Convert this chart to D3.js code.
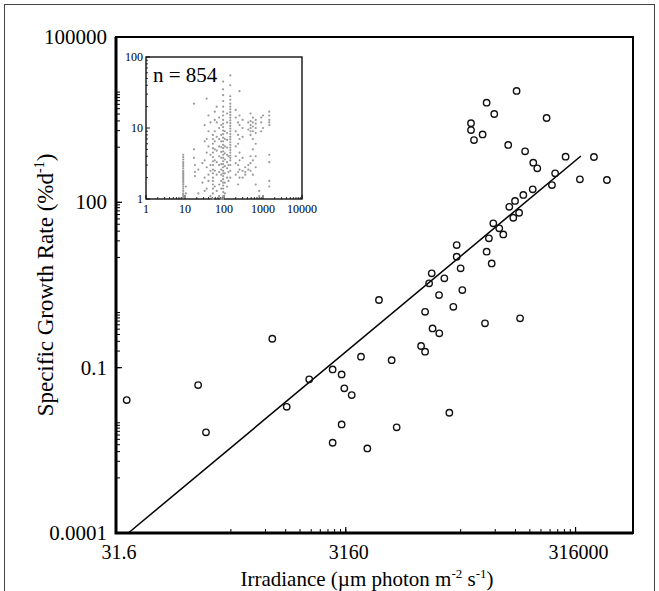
<!DOCTYPE html>
<html>
<head>
<meta charset="utf-8">
<script src="https://cdn.jsdelivr.net/npm/d3@7"></script>
<style>
  body { margin: 0; background: #fff; }
  svg { display: block; font-family: "Liberation Serif", "Times New Roman", serif; }
  text { fill: #000; }
</style>
</head>
<body>
<svg width="659" height="591"></svg>
<script>
// main scatter: irradiance vs specific growth rate
var irradiance = [97000, 53200, 62000, 38900, 38900, 49100, 41300, 177000, 82000, 115000,
    135500, 146800, 259000, 345000, 210000, 197000, 134000, 111000, 94000, 83800,
    102000, 90800, 60800, 68500, 74300, 55700, 29200, 29200, 53200, 58900,
    17700, 16800, 22800, 31600, 20500, 32700, 6150, 27300, 15500, 18000,
    20600, 51500, 104000, 14300, 15500, 4290, 7930, 3560, 25200, 8770,
    4870, 725, 39.2, 164, 192, 968, 1520, 2430, 2910, 3070,
    2910, 2430, 457000, 593000];
var growthRate = [10500, 6430, 4010, 2720, 2050, 1710, 1350, 3390, 1100, 843,
    524, 414, 673, 261, 336, 206, 172, 136, 106, 83,
    64.7, 52.5, 41.6, 33.7, 26.2, 22.2, 16.8, 10.3, 12.7, 7.8,
    5.14, 3.39, 4.18, 6.34, 2.08, 2.56, 1.69, 1.27, 1.03, 0.516,
    0.42, 0.637, 0.785, 0.247, 0.195, 0.158, 0.137, 0.0318, 0.0152, 0.00826,
    0.00343, 0.335, 0.0258, 0.0483, 0.0067, 0.0195, 0.0614, 0.0931, 0.0755, 0.0421,
    0.00935, 0.00434, 664, 254];

// regression line end points
var fitX = [40.5, 352000];
var fitY = [0.0001, 692];

// axis ticks
var xTicks = [31.62, 3162, 316228];
var xTickLabels = ["31.6", "3160", "316000"];
var yTicks = [0.0001, 0.1, 100, 100000];
var yTickLabels = ["0.0001", "0.1", "100", "100000"];
var xMinorDecades = [316.2, 31623];
var yMinorDecades = [0.001, 0.1, 10, 1000];

// inset (n = 854): columns of irradiance with the rates seen in each
var insetX = [9, 10.5, 17, 18, 22, 28, 32, 36, 40, 45, 52, 58, 65, 75, 85, 95, 105, 120, 130, 145,
    200, 230, 250, 300, 350, 420, 480, 550, 650, 800, 900, 1000, 1450];
var insetY = [
    [1.05, 1.1, 1.15, 1.2, 1.3, 1.4, 1.5, 1.6, 1.7, 1.8, 1.9, 2.0, 2.1, 2.2, 2.3, 2.4, 2.5, 2.7, 2.9, 3.1, 3.3, 3.6, 3.9, 4.2],
    [1.2, 1.5],
    [22, 5.0, 3.8],
    [2.4, 2.1, 3.0],
    [1.2, 2.6],
    [1.7, 3.2],
    [1.3, 2.0, 3.5, 6.5, 11],
    [26, 4.5, 7.0, 2.8, 1.4],
    [15, 9, 5.5, 2.2, 1.8],
    [12, 4.2, 3.0, 2.5, 1.1],
    [1.0, 1.2, 1.4, 1.6, 1.8, 2.0, 2.3, 2.6, 3.0, 3.4, 3.9, 4.5, 5.2, 6, 7, 8],
    [1.5, 2.5, 3.5, 5, 6.5, 9, 13, 17],
    [1.3, 2.2, 3.3, 4.8, 7.5, 12, 20],
    [1.1, 1.6, 2.4, 3.0, 4.0, 5.5, 7.0, 10, 14],
    [1.0, 1.4, 1.8, 2.2, 2.6, 3.1, 3.8, 4.6, 5.4, 6.5, 8, 11],
    [1.0, 1.1, 1.25, 1.4, 1.55, 1.7, 1.9, 2.1, 2.3, 2.5, 2.8, 3.1, 3.4, 3.8, 4.2, 4.7, 5.2, 5.8, 6.5, 7.3, 8.2, 9.2, 10.3, 11.5, 13, 15, 17, 20, 24, 29, 35, 45],
    [1.2, 1.7, 2.3, 2.9, 3.6, 4.4, 5.5, 7, 9],
    [1.5, 2.0, 2.7, 3.3, 4.2, 5.3, 6.8, 8.5, 12, 16],
    [1.8, 2.4, 3.0, 4.0],
    [2.0, 2.5, 3.0, 3.5, 3.8, 4.1, 4.5, 4.9, 5.3, 5.8, 6.3, 6.9, 7.5, 8.2, 9, 9.8, 10.7, 11.7, 12.8, 14, 15.3, 16.7, 18.3, 20, 22, 25, 28, 40, 55],
    [14, 18, 9, 5.5, 4.0, 3.2, 2.2],
    [12, 8, 6, 3, 2.4, 1.6],
    [33, 15, 11, 7, 4.5, 3.5, 2.6, 2],
    [13, 10, 7.5, 3.8, 2.5, 2.0],
    [2.8, 2.2, 2.4],
    [2.6, 3.0, 9.5, 12],
    [8, 9, 10, 11, 12.5, 16, 3.2, 2.5, 4.0],
    [7, 9, 10.5, 12, 14, 5, 3.5, 2.2],
    [8.5, 10, 11.5, 13, 6, 4, 2.8, 1.6],
    [1.1, 1.3],
    [12, 9, 14],
    [15, 10],
    [11, 13, 15, 17, 4.2, 3.3, 1.8, 1.5, 12]
];
var insetXTicks = [1, 10, 100, 1000, 10000];
var insetYTicks = [1, 10, 100];

var svg = d3.select("svg");

// outer border of the figure
svg.append("rect")
    .attr("x", 4.5).attr("y", 4.5)
    .attr("width", 650).attr("height", 620)
    .style("fill", "none").style("stroke", "#444").style("stroke-width", 1);

var pLeft = 116, pRight = 633, pTop = 37, pBottom = 533;

var x = d3.scaleLog().domain([Math.pow(10, 1.5), 1e6]).range([pLeft, pRight]);
var y = d3.scaleLog().domain([1e-4, 1e5]).range([pBottom, pTop]);

var g = svg.append("g");

// frame
g.append("rect")
    .attr("x", pLeft).attr("y", pTop)
    .attr("width", pRight - pLeft).attr("height", pBottom - pTop)
    .style("fill", "none").style("stroke", "#000").style("stroke-width", 2);
g.append("path")
    .attr("d", "M" + pLeft + "," + pTop + "V" + pBottom + "H" + pRight)
    .style("fill", "none").style("stroke", "#000").style("stroke-width", 3);

// minor ticks (inside)
var xMinor = [];
xMinorDecades.forEach(function(d) { for (var k = 1; k <= 10; k++) xMinor.push(d * k); });
var yMinor = [];
yMinorDecades.forEach(function(d) { for (var k = 1; k <= 10; k++) yMinor.push(d * k); });

g.selectAll(".xminor").data(xMinor).enter().append("line")
    .attr("x1", d => x(d)).attr("x2", d => x(d))
    .attr("y1", pBottom).attr("y2", pBottom - 4)
    .style("stroke", "#000").style("stroke-width", 1);
g.selectAll(".yminor").data(yMinor).enter().append("line")
    .attr("x1", pLeft).attr("x2", pLeft + 4)
    .attr("y1", d => y(d)).attr("y2", d => y(d))
    .style("stroke", "#000").style("stroke-width", 1);

// major ticks and labels
g.selectAll(".xmajor").data(xTicks).enter().append("line")
    .attr("x1", d => x(d)).attr("x2", d => x(d))
    .attr("y1", pBottom).attr("y2", pBottom - 6)
    .style("stroke", "#000").style("stroke-width", 1.2);
g.selectAll(".ymajor").data(yTicks).enter().append("line")
    .attr("x1", pLeft).attr("x2", pLeft + 6)
    .attr("y1", d => y(d)).attr("y2", d => y(d))
    .style("stroke", "#000").style("stroke-width", 1.2);

g.selectAll(".xlab").data(xTicks).enter().append("text")
    .attr("x", d => x(d) + 3).attr("y", pBottom + 26)
    .attr("text-anchor", "middle")
    .style("font-size", "20px")
    .text((d, i) => xTickLabels[i]);
g.selectAll(".ylab").data(yTicks).enter().append("text")
    .attr("x", pLeft - 9).attr("y", d => y(d) + 7)
    .attr("text-anchor", "end")
    .style("font-size", "21px")
    .text((d, i) => yTickLabels[i]);

// axis titles
var xt = svg.append("text")
    .attr("x", 367).attr("y", 586)
    .attr("text-anchor", "middle")
    .style("font-size", "21px");
xt.append("tspan").text("Irradiance (\u00b5m photon m");
xt.append("tspan").attr("dy", -8).style("font-size", "13px").text("-2");
xt.append("tspan").attr("dy", 8).text(" s");
xt.append("tspan").attr("dy", -8).style("font-size", "13px").text("-1");
xt.append("tspan").attr("dy", 8).text(")");

var yt = svg.append("text")
    .attr("transform", "translate(53,285) rotate(-90)")
    .attr("text-anchor", "middle")
    .style("font-size", "23px");
yt.append("tspan").text("Specific Growth Rate (%d");
yt.append("tspan").attr("dy", -9).style("font-size", "14px").text("-1");
yt.append("tspan").attr("dy", 9).text(")");

// regression line
g.append("path")
    .datum(fitX.map((d, i) => [d, fitY[i]]))
    .attr("d", d3.line().x(d => x(d[0])).y(d => y(d[1])))
    .style("fill", "none").style("stroke", "#000").style("stroke-width", 1.5);

// scatter points
g.selectAll(".pt").data(irradiance).enter().append("circle")
    .attr("cx", d => x(d))
    .attr("cy", (d, i) => y(growthRate[i]))
    .attr("r", 3.2)
    .style("fill", "none").style("stroke", "#111").style("stroke-width", 1.4);

// ---- inset ----
var il = 146, ir = 302, it = 57, ib = 199;
var ix = d3.scaleLog().domain([1, 10000]).range([il, ir]);
var iy = d3.scaleLog().domain([1, 100]).range([ib, it]);

var inset = svg.append("g");
inset.append("rect")
    .attr("x", il).attr("y", it)
    .attr("width", ir - il).attr("height", ib - it)
    .style("fill", "#fff").style("stroke", "#000").style("stroke-width", 1.3);

var ixMinor = [];
for (var e = 0; e < 4; e++) for (var k = 2; k <= 9; k++) ixMinor.push(k * Math.pow(10, e));
var iyMinor = [];
for (var e2 = 0; e2 < 2; e2++) for (var k2 = 2; k2 <= 9; k2++) iyMinor.push(k2 * Math.pow(10, e2));

inset.selectAll(".ixm").data(ixMinor).enter().append("line")
    .attr("x1", d => ix(d)).attr("x2", d => ix(d))
    .attr("y1", ib).attr("y2", ib - 2)
    .style("stroke", "#000").style("stroke-width", 0.8);
inset.selectAll(".iym").data(iyMinor).enter().append("line")
    .attr("x1", il).attr("x2", il + 2)
    .attr("y1", d => iy(d)).attr("y2", d => iy(d))
    .style("stroke", "#000").style("stroke-width", 0.8);
inset.selectAll(".ixM").data(insetXTicks).enter().append("line")
    .attr("x1", d => ix(d)).attr("x2", d => ix(d))
    .attr("y1", ib).attr("y2", ib - 4)
    .style("stroke", "#000").style("stroke-width", 0.9);
inset.selectAll(".iyM").data(insetYTicks).enter().append("line")
    .attr("x1", il).attr("x2", il + 4)
    .attr("y1", d => iy(d)).attr("y2", d => iy(d))
    .style("stroke", "#000").style("stroke-width", 0.9);

inset.selectAll(".ixl").data(insetXTicks).enter().append("text")
    .attr("x", d => ix(d)).attr("y", ib + 14)
    .attr("text-anchor", "middle")
    .style("font-size", "12px")
    .text(d => d);
inset.selectAll(".iyl").data(insetYTicks).enter().append("text")
    .attr("x", il - 3).attr("y", d => iy(d) + 4)
    .attr("text-anchor", "end")
    .style("font-size", "12px")
    .text(d => d);

var insetPts = [];
insetX.forEach(function(xv, i) {
    insetY[i].forEach(function(yv) { insetPts.push([xv, yv]); });
});
inset.selectAll(".ipt").data(insetPts).enter().append("circle")
    .attr("cx", d => ix(d[0]))
    .attr("cy", d => iy(d[1]))
    .attr("r", 1.1)
    .style("fill", "#9a9a9a");

inset.append("text")
    .attr("x", 153).attr("y", 82)
    .style("font-size", "21px")
    .text("n = 854");
</script>
</body>
</html>
